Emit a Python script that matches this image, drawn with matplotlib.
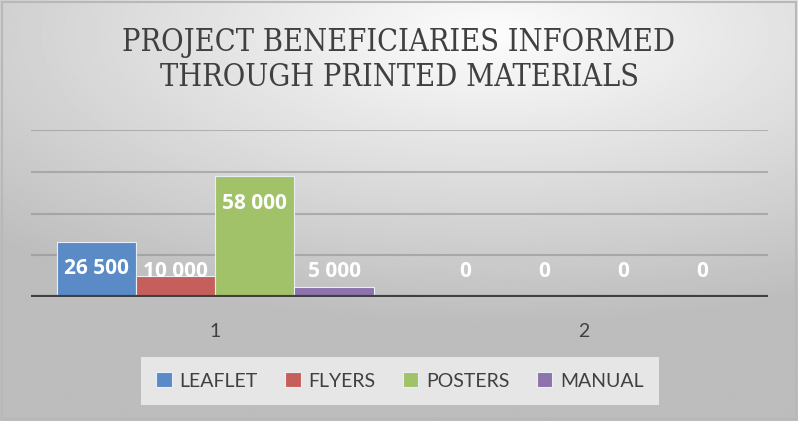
import numpy as np
import matplotlib.pyplot as plt
from matplotlib.patches import Rectangle

categories = [1, 2]
series_names = ['LEAFLET', 'FLYERS', 'POSTERS', 'MANUAL']
leaflet = [26500, 0]
flyers = [10000, 0]
posters = [58000, 0]
manual = [5000, 0]
colors = ['#5b8bc6', '#c65f5b', '#a2c26a', '#8d72ab']

series = [leaflet, flyers, posters, manual]

fig = plt.figure(figsize=(7.98, 4.21), dpi=100)

# background gradient
bg = fig.add_axes([0, 0, 1, 1], zorder=-10)
yy, xx = np.mgrid[0:1:300j, 0:1:600j]
r = np.sqrt(((xx - 0.62) * 1.0) ** 2 + ((yy - 0.08) * 1.3) ** 2)
shade = 0.99 - 0.25 * np.clip(r / 0.9, 0, 1)
bg.imshow(shade, cmap='gray', vmin=0, vmax=1, aspect='auto', extent=[0, 1, 1, 0])
bg.set_xlim(0, 1)
bg.set_ylim(1, 0)
bg.axis('off')
fig.patches.append(Rectangle((0.002, 0.004), 0.996, 0.992, transform=fig.transFigure,
                             fill=False, edgecolor='#b8b8b8', linewidth=1.5))

ax = fig.add_axes([31 / 798, 124 / 421, 737 / 798, 167 / 421])
ax.patch.set_alpha(0)
w = 0.215
x = np.array(categories, dtype=float)
for i, (name, vals) in enumerate(zip(series_names, series)):
    pos = x + (i - 1.5) * w
    ax.bar(pos, vals, width=w, color=colors[i], edgecolor='#e8eef5', linewidth=0.8,
           label=name, zorder=3)
    for px, v in zip(pos, vals):
        ty = max(v - 13000, 12000)
        ax.text(px, ty, f'{v:,}'.replace(',', ' '), ha='center', va='center',
                color='white', fontsize=15, fontweight='bold', family='Open Sans', zorder=4)

ax.set_xlim(0.5, 2.5)
ax.set_ylim(0, 80000)
for gy in [20000, 40000, 60000, 80000]:
    ax.axhline(gy, color='#8c8c8c', linewidth=1.5, alpha=0.55, zorder=1)
ax.axhline(0, color='#404040', linewidth=3, zorder=5)
ax.set_xticks(categories)
ax.set_xticklabels([str(c) for c in categories], fontsize=14, color='#404040', family='Lato')
ax.tick_params(axis='x', length=0, pad=19)
ax.set_yticks([])
for s in ax.spines.values():
    s.set_visible(False)

fig.text(0.5, 1 - 60 / 421, 'PROJECT BENEFICIARIES INFORMED\nTHROUGH PRINTED MATERIALS',
         ha='center', va='center', fontsize=22, family='DejaVu Serif', fontstretch='condensed',
         color='#404040', linespacing=1.2)

leg = fig.legend(loc='center', bbox_to_anchor=(400 / 798, 1 - 381 / 421), ncol=4,
                 frameon=True, fancybox=False, facecolor='#e6e6e6', edgecolor='none',
                 framealpha=1, handlelength=0.8, handleheight=0.8, handletextpad=0.4,
                 columnspacing=1.4, borderpad=0.8,
                 prop={'family': 'Lato', 'size': 14})
for t in leg.get_texts():
    t.set_color('#404040')

fig.savefig('out.png', dpi=100)
